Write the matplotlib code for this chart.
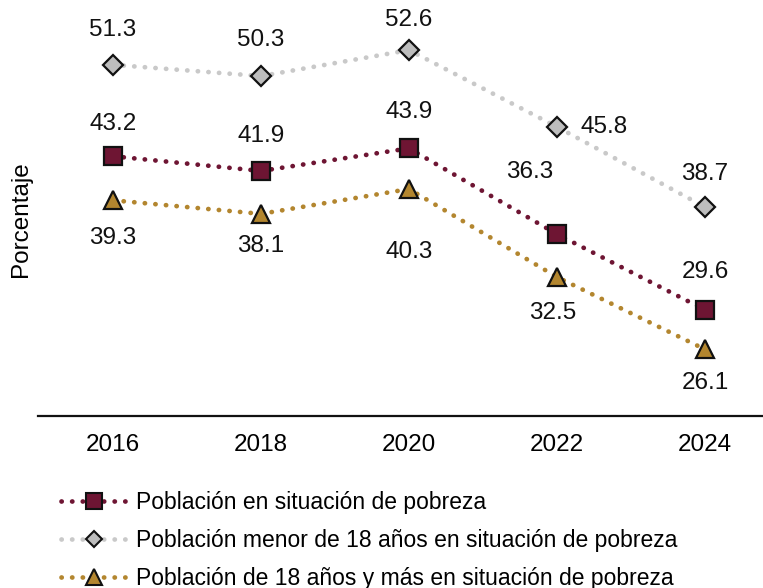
import matplotlib
matplotlib.use("Agg")
import matplotlib.pyplot as plt
from matplotlib.lines import Line2D

plt.rcParams['font.family'] = ['Liberation Sans', 'DejaVu Sans']

years = ["2016", "2018", "2020", "2022", "2024"]
pobreza = [43.2, 41.9, 43.9, 36.3, 29.6]
menores = [51.3, 50.3, 52.6, 45.8, 38.7]
adultos = [39.3, 38.1, 40.3, 32.5, 26.1]

names = ["Población en situación de pobreza",
         "Población menor de 18 años en situación de pobreza",
         "Población de 18 años y más en situación de pobreza"]

c_pob = "#6E1533"
c_men = "#C9C9C9"
c_men_fill = "#BDBDBD"
c_adu = "#B3862F"

fig = plt.figure(figsize=(7.63, 5.88), dpi=100)
ax = fig.add_axes([38/763, 172/588, 1 - 38/763, (565-172)/588])

x = list(range(len(years)))
dot = (0, (0.05, 2.2))
lw = 3.4

def plot_series(vals, color, fill, marker, ms):
    ax.plot(x, vals, color=color, lw=lw, linestyle=dot, dash_capstyle='round',
            solid_capstyle='round', zorder=2)
    ax.plot(x, vals, linestyle='none', marker=marker, ms=ms, mfc=fill,
            mec='#111111', mew=1.6, zorder=3)

plot_series(menores, c_men, c_men_fill, 'D', 10)
plot_series(pobreza, c_pob, c_pob, 's', 13.5)
plot_series(adultos, c_adu, c_adu, '^', 13.5)

fs = 17.5
off_pob = [(0, 23), (0, 25), (0, 26), (-20, 45), (0, 27)]
off_men = [(0, 25), (0, 26), (0, 22), (34, 0), (0, 24)]
off_adu = [(0, -27), (0, -23), (0, -45), (-3, -26), (0, -24.5)]
for vals, offs in ((pobreza, off_pob), (menores, off_men), (adultos, off_adu)):
    for xi, v, o in zip(x, vals, offs):
        ax.annotate(f"{v:.1f}", (xi, v), xytext=o, textcoords='offset points',
                    ha='center', va='center', fontsize=fs, color='#111111',
                    annotation_clip=False)

ax.set_xlim(-0.507, 4.392)
ax.set_ylim(20.2, 55)
ax.set_xticks(x)
ax.set_xticklabels(years, fontsize=fs)
ax.tick_params(axis='x', length=0, pad=13)
ax.set_yticks([])
for s in ['top', 'right', 'left']:
    ax.spines[s].set_visible(False)
ax.spines['bottom'].set_linewidth(1.6)
ax.spines['bottom'].set_color('#111111')
ax.set_ylabel("Porcentaje", fontsize=fs, labelpad=4)

handles = [
    Line2D([], [], color=c_pob, lw=lw, linestyle=dot, dash_capstyle='round',
           marker='s', ms=12, mfc=c_pob, mec='#111111', mew=1.5),
    Line2D([], [], color=c_men, lw=lw, linestyle=dot, dash_capstyle='round',
           marker='D', ms=8.5, mfc=c_men_fill, mec='#111111', mew=1.5),
    Line2D([], [], color=c_adu, lw=lw, linestyle=dot, dash_capstyle='round',
           marker='^', ms=12, mfc=c_adu, mec='#111111', mew=1.5),
]
fig.legend(handles, names, loc='upper left', bbox_to_anchor=(52/763, 1 - 482/588),
           frameon=False, fontsize=16.5, handlelength=2.9, handletextpad=0.35,
           labelspacing=0.65, borderaxespad=0)

fig.savefig("out.png", dpi=100)
